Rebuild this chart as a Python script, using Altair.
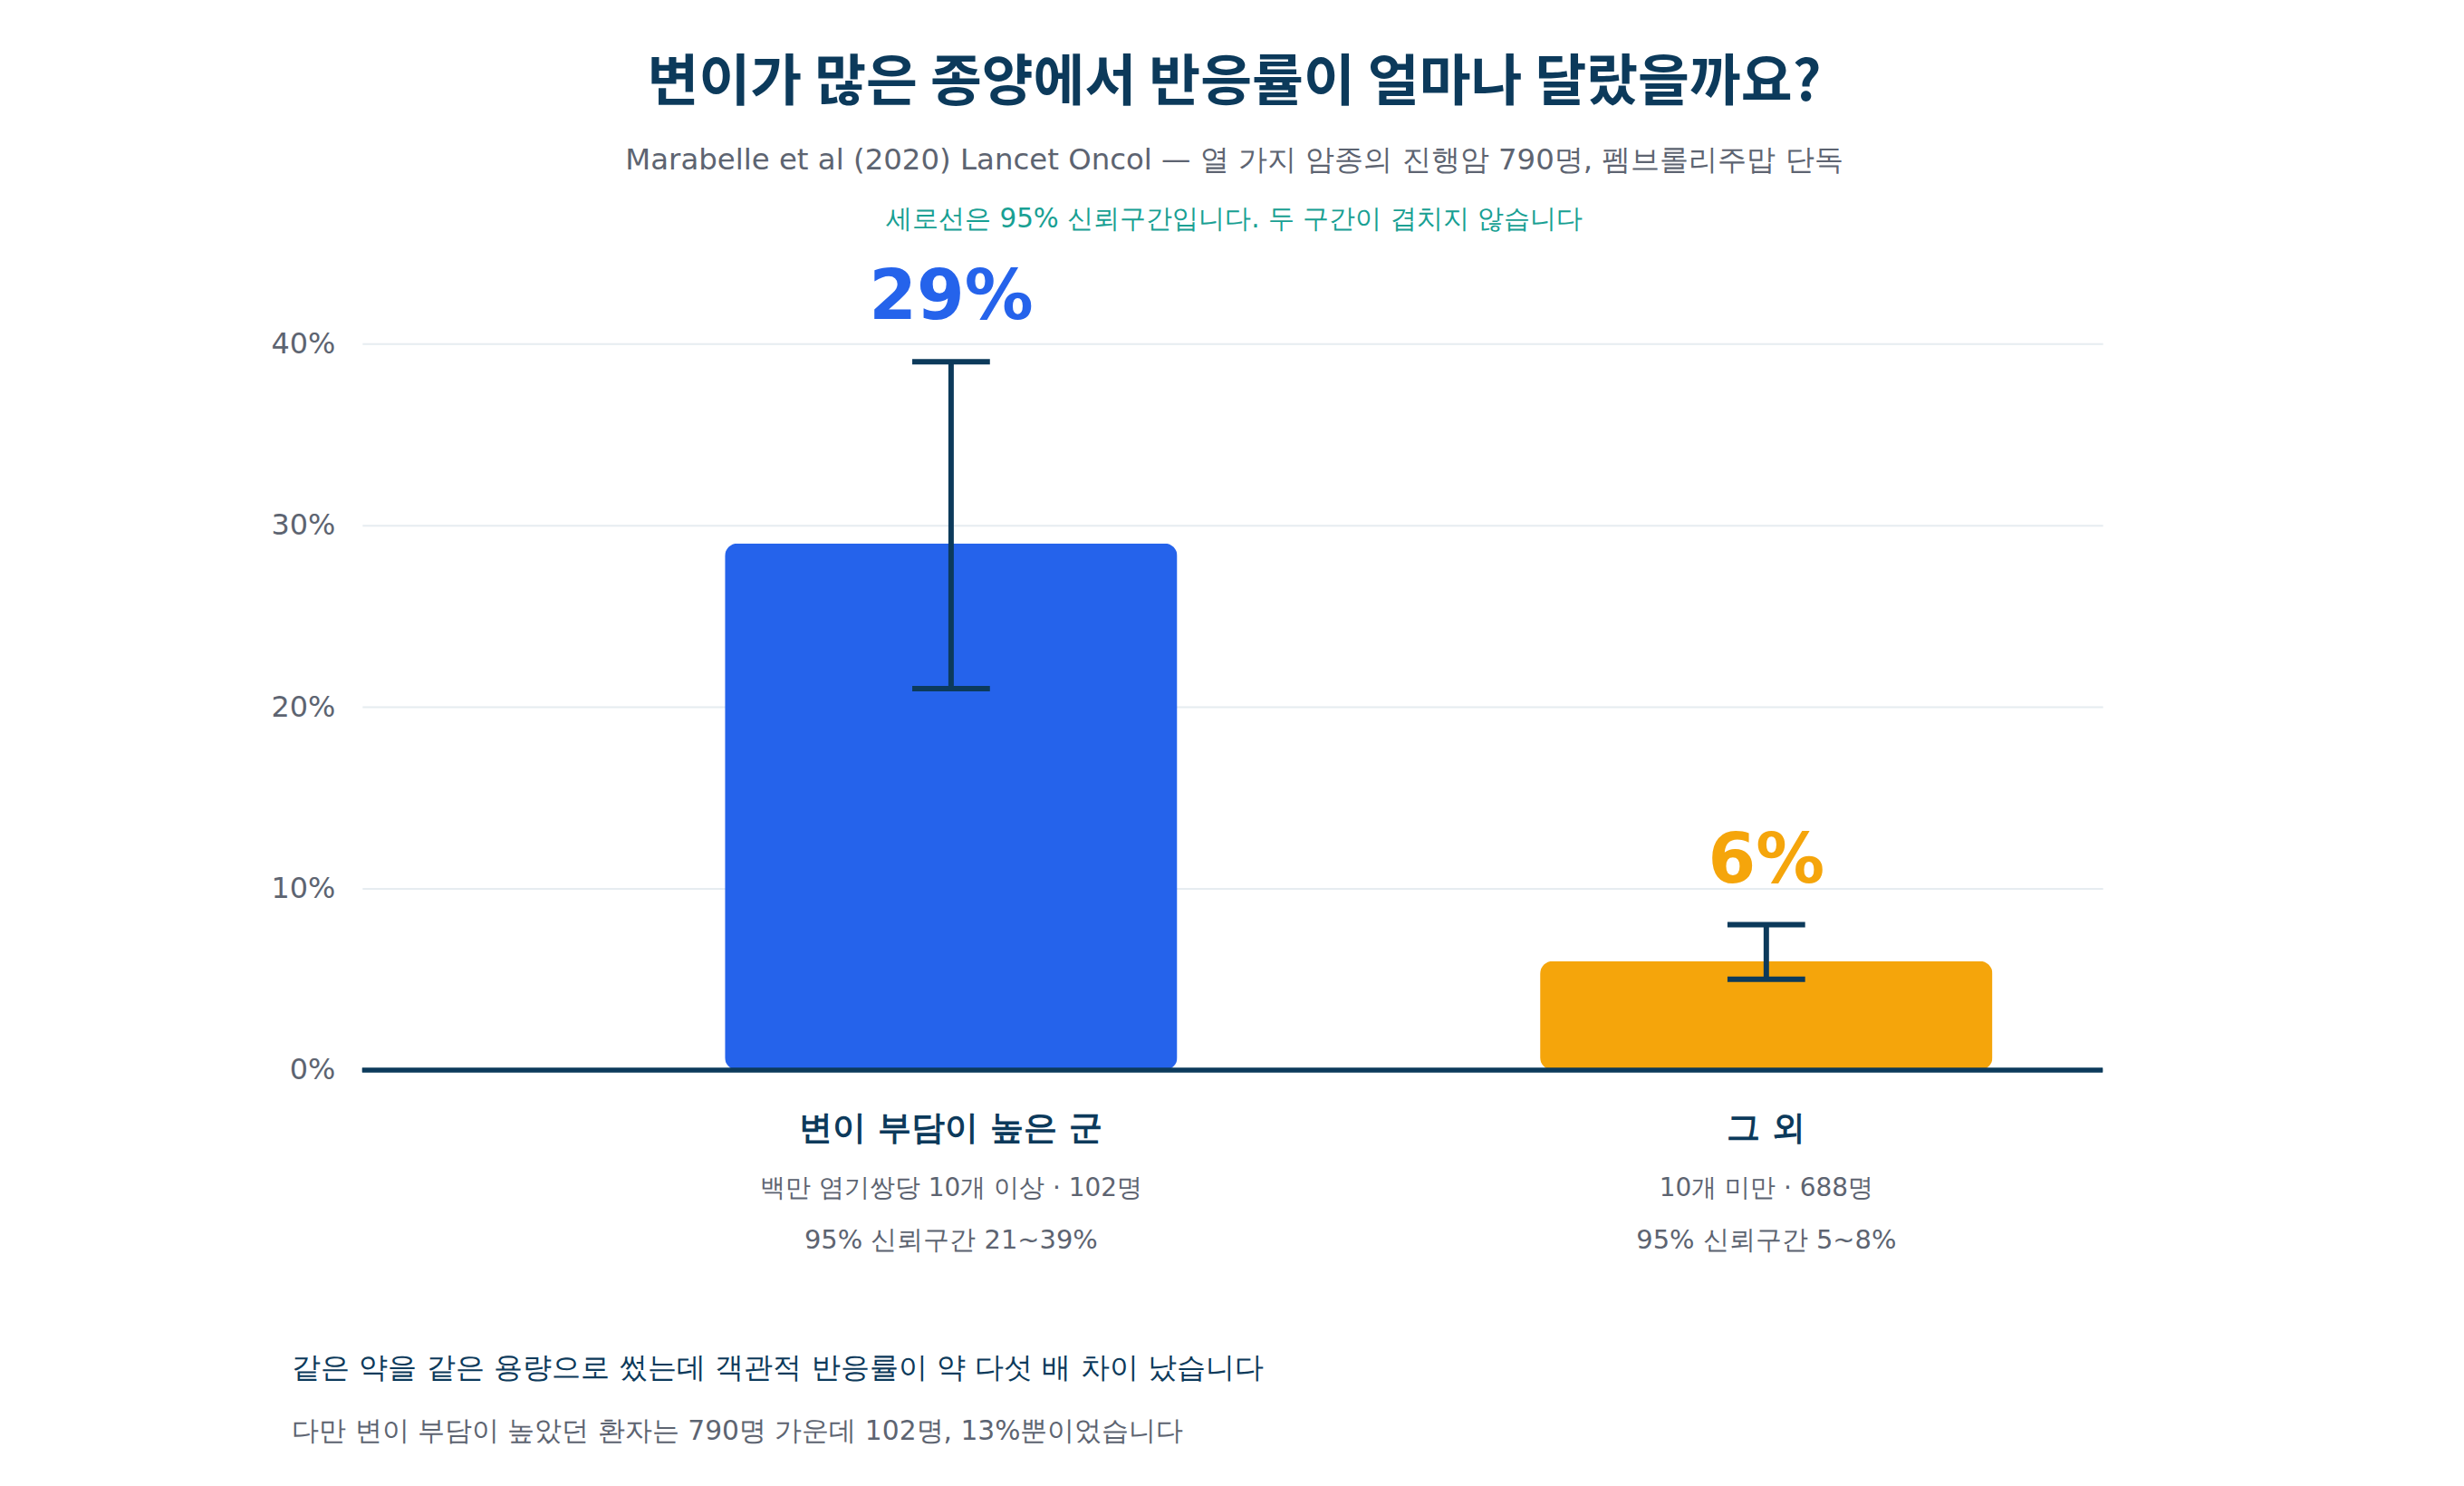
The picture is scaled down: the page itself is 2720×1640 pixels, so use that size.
import altair as alt
import pandas as pd

# chart values
groups = ["변이 부담이 높은 군", "그 외"]
response_rate = [0.29, 0.06]
ci_low = [0.21, 0.05]
ci_high = [0.39, 0.08]
rate_labels = ["29%", "6%"]
detail_line1 = ["백만 염기쌍당 10개 이상 · 102명", "10개 미만 · 688명"]
detail_line2 = ["95% 신뢰구간 21~39%", "95% 신뢰구간 5~8%"]
bar_colors = ["#2563EB", "#F5A50B"]
y_ticks = [0.0, 0.1, 0.2, 0.3, 0.4]

title_text = "변이가 많은 종양에서 반응률이 얼마나 달랐을까요?"
subtitle_text = "Marabelle et al (2020) Lancet Oncol — 열 가지 암종의 진행암 790명, 펨브롤리주맙 단독"
note_text = "세로선은 95% 신뢰구간입니다. 두 구간이 겹치지 않습니다"
footer_main = "같은 약을 같은 용량으로 썼는데 객관적 반응률이 약 다섯 배 차이 났습니다"
footer_sub = "다만 변이 부담이 높았던 환자는 790명 가운데 102명, 13%뿐이었습니다"

NAVY = "#0c3a5b"
GRAY = "#5d6471"
TEAL = "#18a093"
FONT = "DejaVu Sans"
W, H = 1927, 804

df = pd.DataFrame(
    {
        "group": groups,
        "rate": response_rate,
        "low": ci_low,
        "high": ci_high,
        "label": rate_labels,
        "line1": detail_line1,
        "line2": detail_line2,
    }
)
notes = pd.DataFrame({"n": [0]})

y_axis = alt.Axis(
    format=".0%",
    values=y_ticks,
    title=None,
    domain=False,
    ticks=False,
    grid=True,
    gridColor="#e6ecf0",
    gridWidth=2,
    labelPadding=30,
    labelFontSize=32,
    labelColor=GRAY,
    labelFont=FONT,
)
x_enc = alt.X(
    "group:N",
    sort=groups,
    axis=None,
    scale=alt.Scale(paddingInner=0.445, paddingOuter=0.29, align=0.767),
)
y_scale = alt.Scale(domain=[0, 0.4])
color_enc = alt.Color(
    "group:N", scale=alt.Scale(domain=groups, range=bar_colors), legend=None
)

base = alt.Chart(df)

bars = base.mark_bar(cornerRadius=14).encode(
    x=x_enc,
    y=alt.Y("rate:Q", scale=y_scale, axis=y_axis),
    color=color_enc,
)

zero_line = base.mark_rule(color=NAVY, strokeWidth=5).encode(
    y=alt.datum(0, scale=y_scale)
)

ci_rule = base.mark_rule(color=NAVY, strokeWidth=6).encode(
    x=x_enc,
    y=alt.Y("low:Q", scale=y_scale, axis=y_axis),
    y2="high:Q",
)
cap_low = base.mark_tick(color=NAVY, thickness=6, size=86, opacity=1).encode(
    x=x_enc, y=alt.Y("low:Q", scale=y_scale, axis=y_axis)
)
cap_high = base.mark_tick(color=NAVY, thickness=6, size=86, opacity=1).encode(
    x=x_enc, y=alt.Y("high:Q", scale=y_scale, axis=y_axis)
)

rate_text = base.mark_text(
    dy=-70, fontSize=76, fontWeight="bold", font=FONT, baseline="middle"
).encode(
    x=x_enc,
    y=alt.Y("high:Q", scale=y_scale, axis=y_axis),
    text="label:N",
    color=color_enc,
)

group_text = base.mark_text(
    dy=65, fontSize=37.5, fontWeight="bold", font=FONT, color=NAVY, baseline="middle"
).encode(x=x_enc, y=alt.datum(0, scale=y_scale), text="group:N")
line1_text = base.mark_text(
    dy=131, fontSize=28, font=FONT, color=GRAY, baseline="middle"
).encode(x=x_enc, y=alt.datum(0, scale=y_scale), text="line1:N")
line2_text = base.mark_text(
    dy=189, fontSize=29, font=FONT, color=GRAY, baseline="middle"
).encode(x=x_enc, y=alt.datum(0, scale=y_scale), text="line2:N")

ann = alt.Chart(notes)
title_mark = ann.mark_text(
    text=title_text, fontSize=62, fontWeight="bold", font="Noto Sans CJK KR",
    color=NAVY, baseline="middle", align="center",
).encode(x=alt.value(W / 2 + 2), y=alt.value(-288))
subtitle_mark = ann.mark_text(
    text=subtitle_text, fontSize=32.5, font=FONT, color=GRAY,
    baseline="middle", align="center",
).encode(x=alt.value(W / 2 + 2), y=alt.value(-203))
note_mark = ann.mark_text(
    text=note_text, fontSize=29.5, font=FONT, color=TEAL,
    baseline="middle", align="center",
).encode(x=alt.value(W / 2 + 2), y=alt.value(-138))
footer_main_mark = ann.mark_text(
    text=footer_main, fontSize=32.4, fontWeight=500, font=FONT, color=NAVY,
    baseline="middle", align="left",
).encode(x=alt.value(-78), y=alt.value(1134))
footer_sub_mark = ann.mark_text(
    text=footer_sub, fontSize=29.8, font=FONT, color=GRAY,
    baseline="middle", align="left",
).encode(x=alt.value(-78), y=alt.value(1204))

chart = (
    alt.layer(
        bars,
        zero_line,
        ci_rule,
        cap_low,
        cap_high,
        rate_text,
        group_text,
        line1_text,
        line2_text,
        title_mark,
        subtitle_mark,
        note_mark,
        footer_main_mark,
        footer_sub_mark,
    )
    .properties(
        width=W,
        height=H,
        padding={"left": 393, "top": 370, "right": 392, "bottom": 450},
        autosize=alt.AutoSizeParams(type="none"),
        background="white",
    )
    .configure_view(strokeWidth=0)
)

chart.save("out.html", embed_options={"renderer": "svg", "actions": False})
